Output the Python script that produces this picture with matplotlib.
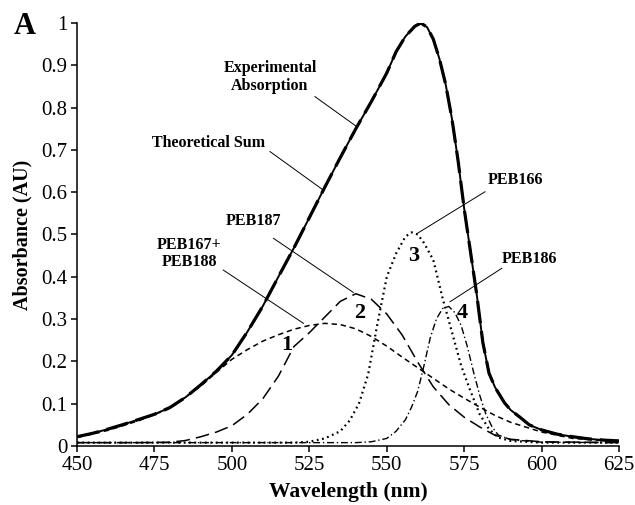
import matplotlib
matplotlib.use('Agg')
import matplotlib.pyplot as plt

plt.rcParams['font.family'] = ['Liberation Serif', 'DejaVu Serif']

# experimental absorption spectrum
wl_exp = [450, 455, 460, 465, 470, 475, 480, 485, 490, 495, 500, 505, 510, 515, 520, 525,
          530, 535, 540, 545, 550, 553, 556, 559, 561, 563, 565, 567, 569, 571, 573, 575,
          577, 579, 581, 583, 585, 588, 590, 593, 596, 600, 605, 610, 615, 620, 625]
abs_exp = [0.022, 0.030, 0.040, 0.051, 0.063, 0.075, 0.091, 0.115, 0.145, 0.177, 0.215, 0.270,
           0.331, 0.400, 0.468, 0.540, 0.612, 0.682, 0.750, 0.814, 0.882, 0.932, 0.968, 0.992,
           1.000, 0.990, 0.962, 0.915, 0.855, 0.775, 0.675, 0.560, 0.460, 0.360, 0.245, 0.172,
           0.138, 0.102, 0.085, 0.068, 0.050, 0.038, 0.028, 0.022, 0.017, 0.014, 0.012]

# theoretical sum of the four components
abs_sum = [0.022, 0.030, 0.040, 0.051, 0.063, 0.075, 0.091, 0.115, 0.145, 0.177, 0.215, 0.270,
           0.331, 0.400, 0.468, 0.540, 0.612, 0.682, 0.750, 0.814, 0.882, 0.932, 0.968, 0.992,
           1.000, 0.990, 0.962, 0.915, 0.855, 0.775, 0.675, 0.560, 0.460, 0.360, 0.245, 0.172,
           0.138, 0.102, 0.085, 0.068, 0.050, 0.038, 0.028, 0.022, 0.017, 0.014, 0.012]

# component 1: PEB167+PEB188
wl_1 = [450, 460, 470, 480, 490, 495, 500, 505, 510, 515, 520, 525, 530, 535, 540, 545, 550,
        555, 560, 565, 570, 575, 580, 585, 590, 600, 610, 625]
abs_1 = [0.020, 0.037, 0.060, 0.089, 0.142, 0.174, 0.205, 0.228, 0.248, 0.263, 0.276, 0.285,
         0.290, 0.287, 0.277, 0.259, 0.236, 0.210, 0.185, 0.160, 0.135, 0.113, 0.092, 0.072,
         0.056, 0.033, 0.018, 0.010]

# component 2: PEB187
wl_2 = [450, 470, 480, 485, 490, 495, 500, 505, 510, 515, 520, 525, 530, 535, 540, 545, 550,
        555, 560, 565, 570, 575, 580, 585, 590, 600, 625]
abs_2 = [0.008, 0.008, 0.009, 0.013, 0.022, 0.033, 0.048, 0.075, 0.112, 0.165, 0.235, 0.268,
         0.305, 0.342, 0.360, 0.347, 0.312, 0.262, 0.198, 0.140, 0.098, 0.068, 0.045, 0.025,
         0.016, 0.010, 0.008]

# component 3: PEB166
wl_3 = [450, 520, 525, 530, 535, 538, 541, 544, 547, 550, 553, 556, 558, 560, 562, 565, 568,
        571, 574, 577, 580, 583, 586, 590, 600, 625]
abs_3 = [0.008, 0.008, 0.010, 0.018, 0.035, 0.060, 0.100, 0.170, 0.290, 0.400, 0.455, 0.495,
         0.505, 0.500, 0.480, 0.440, 0.350, 0.270, 0.190, 0.130, 0.075, 0.040, 0.020, 0.012,
         0.008, 0.008]

# component 4: PEB186
wl_4 = [450, 540, 545, 550, 553, 556, 558, 560, 562, 564, 566, 568, 570, 572, 574, 576, 578,
        580, 582, 584, 586, 590, 600, 625]
abs_4 = [0.008, 0.008, 0.010, 0.018, 0.035, 0.062, 0.092, 0.130, 0.190, 0.255, 0.300, 0.325,
         0.330, 0.315, 0.285, 0.235, 0.175, 0.120, 0.075, 0.045, 0.026, 0.015, 0.009, 0.008]

x_ticks = [450, 475, 500, 525, 550, 575, 600, 625]
y_ticks = [0, 0.1, 0.2, 0.3, 0.4, 0.5, 0.6, 0.7, 0.8, 0.9, 1]
y_tick_labels = ['0', '0.1', '0.2', '0.3', '0.4', '0.5', '0.6', '0.7', '0.8', '0.9', '1']

fig = plt.figure(figsize=(6.35, 5.05), dpi=100)
ax = fig.add_axes([0.1213, 0.1168, 0.8537, 0.8377])

ax.plot(wl_exp, abs_exp, color='black', linewidth=1.4, solid_capstyle='round')
ax.plot(wl_exp, abs_sum, color='black', linewidth=2.3, dashes=(7, 2.5))
ax.plot(wl_1, abs_1, color='black', linewidth=1.1, dashes=(3.5, 2.5))
ax.plot(wl_2, abs_2, color='black', linewidth=1.1, dashes=(9, 4))
ax.plot(wl_3, abs_3, color='black', linewidth=1.6, dashes=(0.8, 1.6))
ax.plot(wl_4, abs_4, color='black', linewidth=1.0, dashes=(5, 2, 1, 2))

ax.set_xlim(450, 625)
ax.set_ylim(0, 1)
ax.set_xticks(x_ticks)
ax.set_yticks(y_ticks)
ax.set_yticklabels(y_tick_labels)
ax.spines['top'].set_visible(False)
ax.spines['right'].set_visible(False)
for s in ['left', 'bottom']:
    ax.spines[s].set_linewidth(1.1)
ax.tick_params(direction='out', length=4, width=1.1, labelsize=15, pad=3)

ax.set_xlabel('Wavelength (nm)', fontsize=15.5, fontweight='bold', labelpad=5)
ax.set_ylabel('Absorbance (AU)', fontsize=14.5, fontweight='bold', labelpad=6)

# annotations
lab = dict(fontsize=11.5, fontweight='bold', ha='center', va='center')
ax.text(512.3, 0.872, 'Experimental\nAbsorption', linespacing=1.15, **lab)
ax.plot([526.8, 540.3], [0.826, 0.755], color='black', linewidth=0.7)
ax.text(492.4, 0.717, 'Theoretical Sum', **lab)
ax.plot([512.3, 529.5], [0.696, 0.605], color='black', linewidth=0.7)
ax.text(506.9, 0.533, 'PEB187', **lab)
ax.plot([513.4, 539.2], [0.491, 0.363], color='black', linewidth=0.7)
ax.text(486.3, 0.455, 'PEB167+\nPEB188', linespacing=1.15, **lab)
ax.plot([497.2, 523.1], [0.416, 0.290], color='black', linewidth=0.7)
ax.text(591.6, 0.630, 'PEB166', **lab)
ax.plot([581.7, 559.7], [0.601, 0.502], color='black', linewidth=0.7)
ax.text(596.0, 0.442, 'PEB186', **lab)
ax.plot([587.1, 570.4], [0.420, 0.341], color='black', linewidth=0.7)

num = dict(fontsize=16, fontweight='bold', ha='center', va='center')
ax.text(517.7, 0.239, '1', **num)
ax.text(541.2, 0.314, '2', **num)
ax.text(558.6, 0.448, '3', **num)
ax.text(574.4, 0.314, '4', **num)

fig.text(0.039, 0.947, 'A', fontsize=22, fontweight='bold', ha='center', va='center')

fig.savefig('out.png', dpi=100)
